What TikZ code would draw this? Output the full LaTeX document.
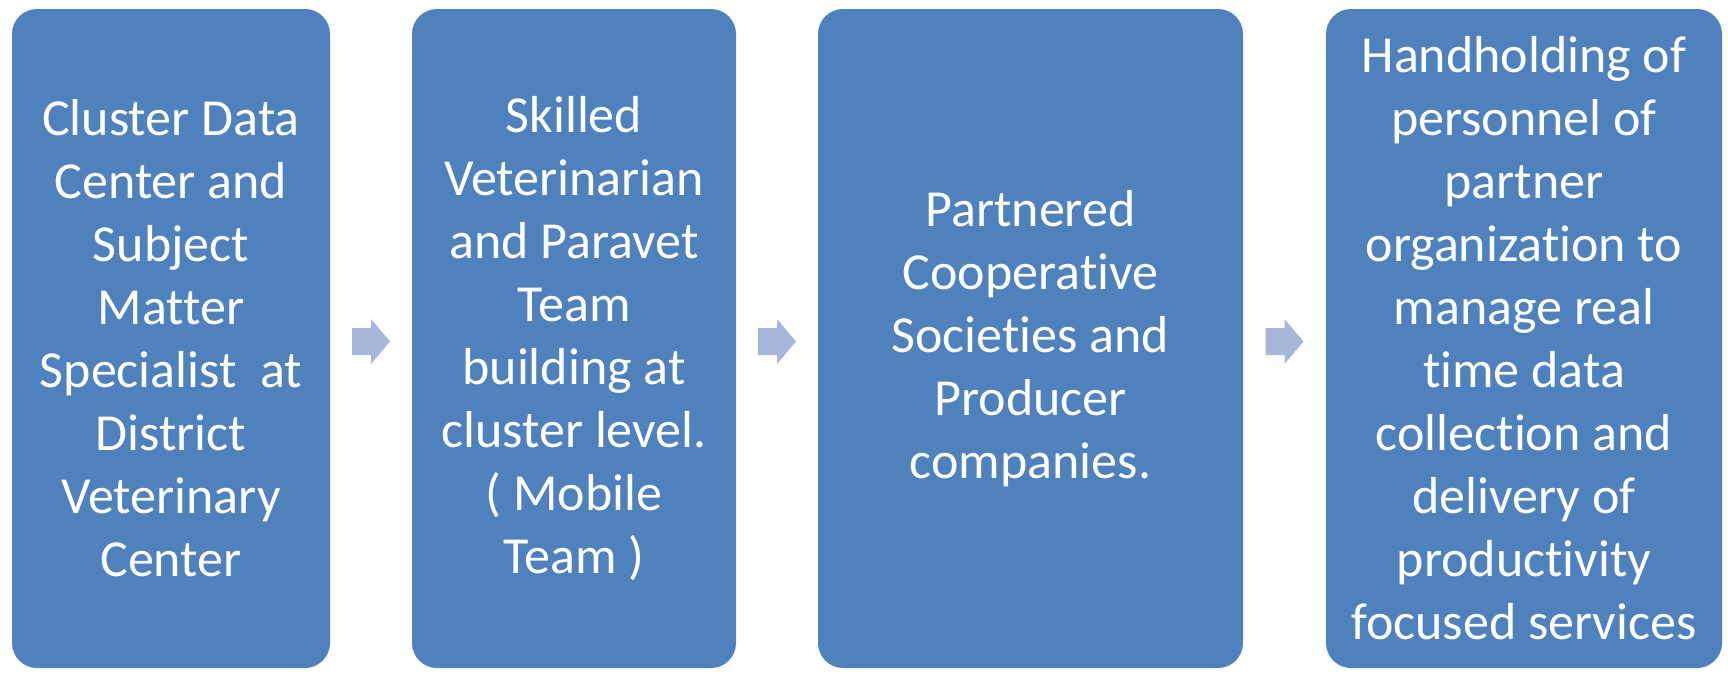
\documentclass[tikz,border=0pt]{standalone}
\usepackage{fontspec}
\setmainfont{Carlito}[Ligatures=NoCommon]
\usetikzlibrary{calc}
\definecolor{boxblue}{RGB}{79,129,189}
\definecolor{arrowblue}{RGB}{167,182,219}
\tikzset{
  stagebox/.style={fill=boxblue, rounded corners=25pt, text=white, align=center,
    inner sep=0pt, minimum height=659pt,
    font=\fontsize{52}{63}\selectfont},
  flowarrow/.pic={\fill[arrowblue] (-19,-13.5) -- (0,-13.5) -- (0,-22.5) -- (19,0) -- (0,22.5) -- (0,13.5) -- (-19,13.5) -- cycle;}
}
\begin{document}
\begin{tikzpicture}[x=1pt,y=-1pt]
\useasboundingbox (0,0) rectangle (1728,673);
\node[stagebox, minimum width=318pt] (b1) at (171,338.5) {Cluster Data\\Center and\\Subject\\Matter\\Specialist~ at\\District\\Veterinary\\Center};
\node[stagebox, minimum width=324pt] (b2) at (574,338.5) {Skilled\\Veterinarian\\and Paravet\\Team\\building at\\cluster level.\\( Mobile\\Team )};
\node[stagebox, minimum width=425pt] (b3) at (1030.5,338.5) {Partnered\\Cooperative\\Societies and\\Producer\\companies.};
\node[stagebox, minimum width=396pt] (b4) at (1524,338.5) {Handholding of\\personnel of\\partner\\organization to\\manage real\\time data\\collection and\\delivery of\\productivity\\focused services};
\coordinate (a1) at ($(b1.east)!0.5!(b2.west)+(0,3)$);
\coordinate (a2) at ($(b2.east)!0.5!(b3.west)+(0,3)$);
\coordinate (a3) at ($(b3.east)!0.5!(b4.west)+(0,3)$);
\pic at (a1) {flowarrow};
\pic at (a2) {flowarrow};
\pic at (a3) {flowarrow};
\end{tikzpicture}
\end{document}
